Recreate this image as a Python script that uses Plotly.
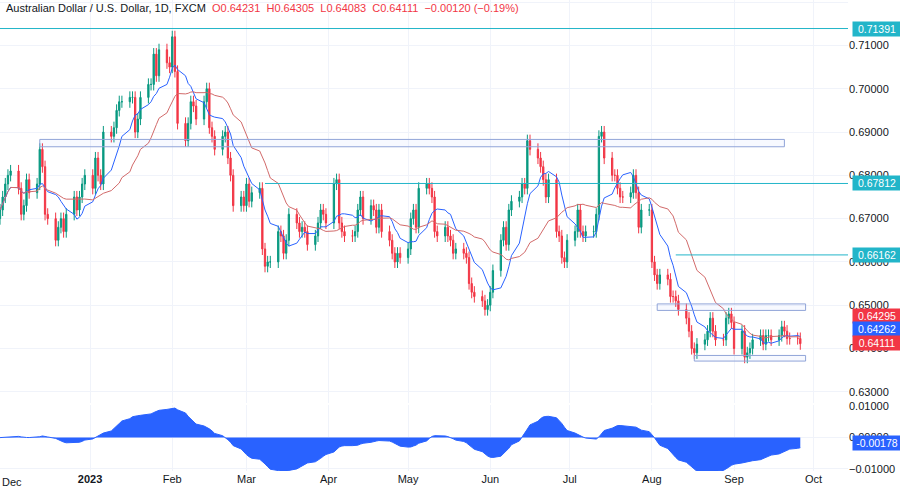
import pandas as pd, numpy as np
import plotly.graph_objects as go
from plotly.subplots import make_subplots

closes = [
0.672,0.675,0.678,0.680,0.681, 0.677,0.671,0.673,0.679,0.676, 0.678,0.686,0.682,0.671,0.670,
0.665,0.668,0.670,0.667,0.671, 0.675,0.672,0.675,0.678,0.680, 0.677,0.684,0.680,0.678,0.690,
0.689,0.691,0.695,0.697,0.697, 0.698,0.698,0.690,0.693,0.698, 0.701,0.701,0.708,0.703,0.709,
0.706,0.705,0.712,0.704,0.692, 0.688,0.692,0.697,0.696,0.693, 0.697,0.700,0.691,0.689,0.686,
0.689,0.690,0.684,0.680,0.673, 0.675,0.673,0.678,0.674,0.676, 0.677,0.663,0.659,0.660,0.660,
0.667,0.666,0.662,0.665,0.671, 0.669,0.667,0.668,0.667,0.664, 0.666,0.669,0.672,0.671,0.669,
0.678,0.679,0.669,0.667,0.666, 0.666,0.667,0.672,0.675,0.670, 0.673,0.672,0.668,0.672,0.667,
0.665,0.662,0.660,0.662,0.661, 0.663,0.670,0.672,0.668,0.677, 0.678,0.677,0.675,0.667,0.666,
0.668,0.666,0.665,0.662,0.663, 0.662,0.661,0.655,0.653,0.652, 0.651,0.649,0.650,0.653,0.658,
0.665,0.668,0.664,0.672,0.674, 0.675,0.678,0.677,0.688,0.686, 0.684,0.682,0.679,0.675,0.679,
0.667,0.666,0.661,0.660,0.665, 0.667,0.672,0.667,0.666,0.667, 0.667,0.671,0.689,0.690,0.684,
0.680,0.680,0.677,0.675,0.675, 0.676,0.680,0.676,0.668,0.672, 0.672,0.660,0.657,0.655,0.657,
0.656,0.652,0.652,0.651,0.649, 0.647,0.644,0.640,0.639,0.641, 0.642,0.644,0.647,0.644,0.642,
0.642,0.647,0.648,0.646,0.640, 0.644,0.638,0.639,0.640,0.642, 0.643,0.641,0.643,0.643,0.642,
0.643,0.645,0.644,0.6423,0.6423, 0.6423,0.64111]
wick = 0.0014
first_open = 0.670

dates = pd.bdate_range("2022-11-28", periods=len(closes))
c = pd.Series(closes, index=dates)
o = c.shift(1).fillna(first_open)
h = np.maximum(o, c) + wick
l = np.minimum(o, c) - wick
ma_fast = c.rolling(9, min_periods=1).mean()
ma_slow = c.rolling(21, min_periods=1).mean()
osc = (c.ewm(span=12).mean() - c.ewm(span=26).mean()).ewm(span=6).mean() * 1.5

UP, DN = "#089981", "#f23645"
TEAL = "#22b5c9"
fig = make_subplots(rows=2, cols=1, shared_xaxes=True, vertical_spacing=0.006, row_heights=[0.86, 0.14])
fig.add_trace(go.Candlestick(x=dates, open=o, high=h, low=l, close=c,
    increasing=dict(line=dict(color=UP, width=1), fillcolor=UP),
    decreasing=dict(line=dict(color=DN, width=1), fillcolor=DN), whiskerwidth=0), 1, 1)
fig.add_trace(go.Scatter(x=dates, y=ma_fast, line=dict(color="#2962ff", width=1), mode="lines"), 1, 1)
fig.add_trace(go.Scatter(x=dates, y=ma_slow, line=dict(color="#d26a6a", width=1), mode="lines"), 1, 1)
fig.add_trace(go.Scatter(x=dates, y=osc, fill="tozeroy", fillcolor="#2962ff", line=dict(color="#2962ff", width=1), mode="lines"), 2, 1)

xend = "2023-10-20"
levels = [("2022-11-20", 0.71391), ("2023-03-08", 0.67812), ("2023-08-10", 0.66162)]
for x0, y in levels:
    fig.add_shape(type="line", x0=x0, x1=xend, y0=y, y1=y, line=dict(color=TEAL, width=1), layer="above", row=1, col=1)
boxes = [("2022-12-13", "2023-09-20", 0.6866, 0.6883), ("2023-08-03", "2023-09-28", 0.6488, 0.6503), ("2023-08-17", "2023-09-28", 0.6371, 0.6384)]
for x0, x1, y0, y1 in boxes:
    fig.add_shape(type="rect", x0=x0, x1=x1, y0=y0, y1=y1, line=dict(color="#90a4d8", width=1), fillcolor="rgba(41,98,255,0.04)", row=1, col=1)

tags = [(0.71391, TEAL, "y"), (0.67812, TEAL, "y"), (0.66162, TEAL, "y"),
        (0.64295, DN, "y"), (0.64262, "#2962ff", "y"), (0.64111, DN, "y"), (-0.00178, "#2962ff", "y2")]
ypos = {0.64295: 0.64740, 0.64262: 0.64443, 0.64111: 0.64123}
for v, col, yr in tags:
    fig.add_annotation(x=1.0, xref="paper", y=ypos.get(v, v), yref=yr, xanchor="left", xshift=4, text=f"{v:.5f}",
        showarrow=False, bgcolor=col, font=dict(color="white", size=10.5), borderpad=1, width=46, height=12)

fig.add_annotation(x=0.005, y=1.0, xref="paper", yref="paper", xanchor="left", yanchor="top", showarrow=False,
    text="Australian Dollar / U.S. Dollar, 1D, FXCM  <span style='color:#f23645'>O0.64231  H0.64305  L0.64083  C0.64111  −0.00120 (−0.19%)</span>",
    font=dict(size=11, color="#131722"))
fig.add_annotation(x=0, xref="paper", y=0, yref="paper", yanchor="top", xanchor="left", yshift=-3, text="Dec",
    showarrow=False, font=dict(size=11, color="#131722"))

tickvals = ["2023-01-01","2023-02-01","2023-03-01","2023-04-01","2023-05-01","2023-06-01","2023-07-01","2023-08-01","2023-09-01","2023-10-01"]
ticktext = ["<b>2023</b>","Feb","Mar","Apr","May","Jun","Jul","Aug","Sep","Oct"]
grid = "#f0f3fa"
fig.update_xaxes(range=["2022-11-28", "2023-10-14"], rangeslider_visible=False, showgrid=True, gridcolor=grid,
                 tickvals=tickvals, ticktext=ticktext, showline=False, zeroline=False)
fig.update_xaxes(showticklabels=False, row=1, col=1)
fig.update_yaxes(side="right", range=[0.6275, 0.7205], dtick=0.01, tickformat=".5f", gridcolor=grid, zeroline=False, row=1, col=1)
fig.update_yaxes(side="right", range=[-0.0107, 0.0103], tickvals=[-0.01, 0, 0.01], tickformat=".5f", gridcolor=grid, zeroline=False, row=2, col=1)
fig.update_layout(width=900, height=491, margin=dict(l=0, r=52, t=0, b=20, autoexpand=False), showlegend=False,
    plot_bgcolor="white", paper_bgcolor="white", font=dict(family="Liberation Sans", size=11, color="#131722"))
fig.write_html("out.html", config={"displayModeBar": False},
               post_script="document.body.style.margin='0';document.body.style.overflow='hidden';")
